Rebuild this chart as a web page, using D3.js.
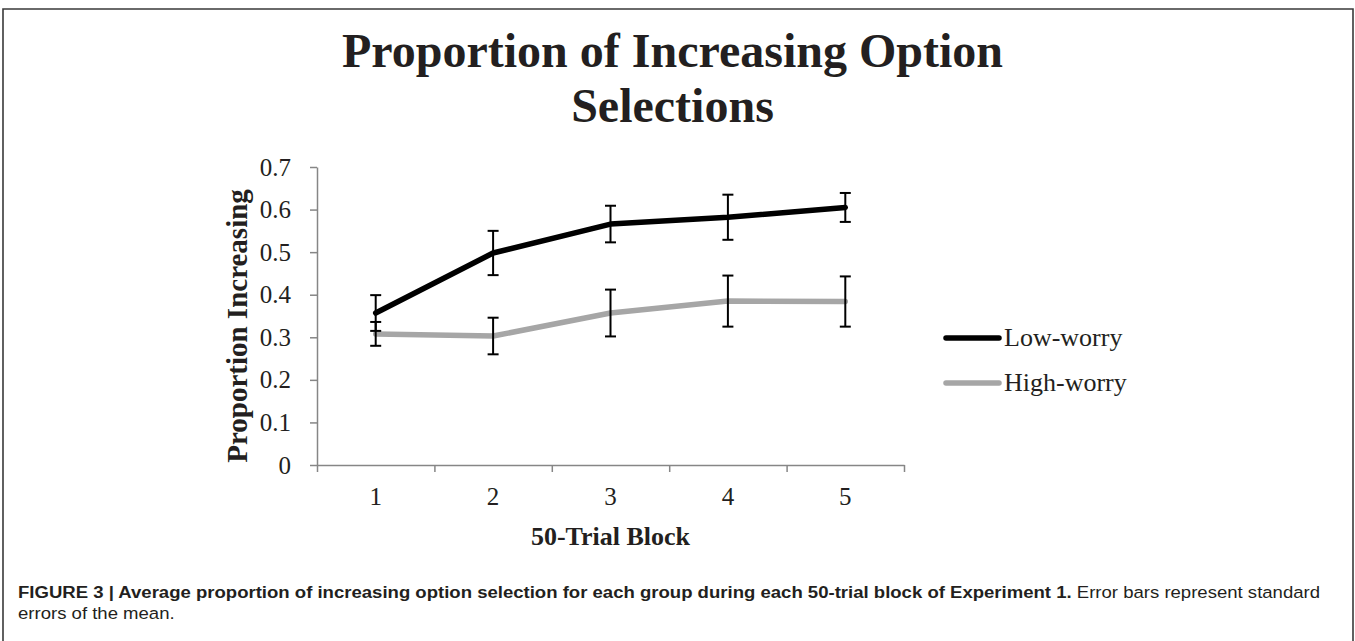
<!DOCTYPE html>
<html>
<head>
<meta charset="utf-8">
<script src="https://cdn.jsdelivr.net/npm/d3@7/dist/d3.min.js"></script>
<style>
  html, body { margin: 0; padding: 0; background: #fff; }
  svg { display: block; }
</style>
</head>
<body>
<svg id="chart" width="1355" height="641"></svg>
<script>
// ---------------- data ----------------
const blocks = [1, 2, 3, 4, 5];
const lowWorry = [0.357, 0.498, 0.566, 0.582, 0.605];
const lowWorrySE = [0.042, 0.052, 0.043, 0.053, 0.034];
const highWorry = [0.308, 0.303, 0.357, 0.385, 0.384];
const highWorrySE = [0.028, 0.043, 0.055, 0.060, 0.059];
const seriesNames = ["Low-worry", "High-worry"];
const yTicks = [0, 0.1, 0.2, 0.3, 0.4, 0.5, 0.6, 0.7];
const yTickLabels = ["0", "0.1", "0.2", "0.3", "0.4", "0.5", "0.6", "0.7"];
const titleLines = ["Proportion of Increasing Option", "Selections"];
const yTitle = "Proportion Increasing";
const xTitle = "50-Trial Block";
const captionBold = "FIGURE 3 | Average proportion of increasing option selection for each group during each 50-trial block of Experiment 1.";
const captionRest = " Error bars represent standard";
const captionLine2 = "errors of the mean.";

// ---------------- layout ----------------
const svg = d3.select("#chart");
const serif = "'Liberation Serif', 'Times New Roman', serif";
const sans = "'Liberation Sans', Arial, sans-serif";
const ink = "#231f20";
const axisColor = "#868686";

const x = d3.scaleBand().domain(blocks).range([317, 904]).padding(0);
const xEdge = d3.scaleLinear().domain([0.5, 5.5]).range([317, 904]);
const y = d3.scaleLinear().domain([0, 0.7]).range([465, 167]);
const cx = d => x(d) + x.bandwidth() / 2;

// frame
svg.append("path")
  .attr("d", "M3,641 V9 H1353 V641")
  .attr("fill", "none").attr("stroke", "#3a3a3a").attr("stroke-width", 1.6);

// title
svg.append("g").selectAll("text").data(titleLines).join("text")
  .attr("x", 672.5).attr("y", (d, i) => 67 + i * 55)
  .attr("text-anchor", "middle")
  .attr("font-family", serif).attr("font-weight", "bold").attr("font-size", 48)
  .attr("fill", ink).text(d => d);

// y axis
const gy = svg.append("g").attr("transform", "translate(317,0)")
  .call(d3.axisLeft(y).tickValues(yTicks).tickFormat((d, i) => yTickLabels[i])
    .tickSize(7).tickSizeOuter(0).tickPadding(19));
gy.selectAll("path, line").attr("stroke", axisColor).attr("stroke-width", 1.5);
gy.selectAll("text").attr("font-family", serif).attr("font-size", 25).attr("fill", ink);

// x axis (ticks at block edges)
const gx = svg.append("g").attr("transform", "translate(0,465)")
  .call(d3.axisBottom(xEdge).tickValues(d3.range(0.5, 6, 1)).tickFormat("")
    .tickSize(7).tickSizeOuter(0));
gx.selectAll("path, line").attr("stroke", axisColor).attr("stroke-width", 1.5);

const gxl = svg.append("g").attr("transform", "translate(0,465)")
  .call(d3.axisBottom(x).tickSize(0));
gxl.select(".domain").remove();
gxl.selectAll("text").attr("y", 40).attr("dy", 0)
  .attr("font-family", serif).attr("font-size", 25).attr("fill", ink);

// axis titles
svg.append("text").attr("x", 610.5).attr("y", 545).attr("text-anchor", "middle")
  .attr("font-family", serif).attr("font-weight", "bold").attr("font-size", 26)
  .attr("fill", ink).text(xTitle);
svg.append("text").attr("transform", "translate(247,326) rotate(-90)")
  .attr("text-anchor", "middle")
  .attr("font-family", serif).attr("font-weight", "bold").attr("font-size", 29)
  .attr("fill", ink).text(yTitle);

// series
const series = [
  { name: seriesNames[0], vals: lowWorry, se: lowWorrySE, color: "#000000" },
  { name: seriesNames[1], vals: highWorry, se: highWorrySE, color: "#a6a6a6" }
];
const line = d3.line().x((d, i) => cx(blocks[i])).y(d => y(d));

[series[1], series[0]].forEach(s => {
  svg.append("path").datum(s.vals)
    .attr("d", line).attr("fill", "none")
    .attr("stroke", s.color).attr("stroke-width", 5.5)
    .attr("stroke-linejoin", "round").attr("stroke-linecap", "round");
});

// error bars
series.forEach(s => {
  const g = svg.append("g").attr("stroke", "#000").attr("stroke-width", 2);
  blocks.forEach((b, i) => {
    const xc = cx(b), hi = y(s.vals[i] + s.se[i]), lo = y(s.vals[i] - s.se[i]);
    g.append("line").attr("x1", xc).attr("x2", xc).attr("y1", hi).attr("y2", lo);
    g.append("line").attr("x1", xc - 5.5).attr("x2", xc + 5.5).attr("y1", hi).attr("y2", hi);
    g.append("line").attr("x1", xc - 5.5).attr("x2", xc + 5.5).attr("y1", lo).attr("y2", lo);
  });
});

// legend
const legend = svg.append("g");
series.forEach((s, i) => {
  const ly = 338 + i * 45;
  legend.append("line").attr("x1", 946).attr("x2", 999).attr("y1", ly).attr("y2", ly)
    .attr("stroke", s.color).attr("stroke-width", 5.5).attr("stroke-linecap", "round");
  legend.append("text").attr("x", 1004).attr("y", ly + 8)
    .attr("font-family", serif).attr("font-size", 26).attr("fill", ink).text(s.name);
});

// caption
const cap = svg.append("g").attr("font-family", sans).attr("font-size", 17).attr("fill", ink);
const t1 = cap.append("text").attr("x", 0).attr("y", 598);
t1.append("tspan").attr("font-weight", "bold").text(captionBold);
t1.append("tspan").text(captionRest);
const t2 = cap.append("text").attr("x", 0).attr("y", 619).text(captionLine2);
const natural = t1.node().getComputedTextLength();
const sx = (1321 - 18) / natural;
cap.attr("transform", `translate(18,0) scale(${sx},1)`);
</script>
</body>
</html>
